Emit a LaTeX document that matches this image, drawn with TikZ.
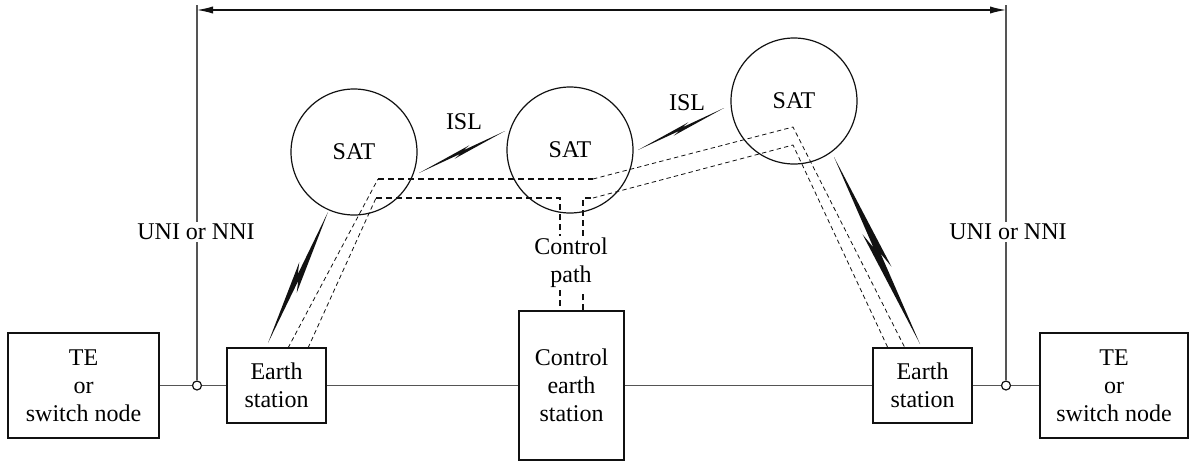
\documentclass[tikz,border=0pt]{standalone}
\usepackage{fontspec}
\setmainfont{Liberation Serif}
\newfontfamily\diagfont{Liberation Serif}
\usetikzlibrary{calc,arrows.meta}
\definecolor{ink}{HTML}{111111}
\definecolor{wire}{HTML}{555555}
\tikzset{
  box/.style={draw=ink, line width=0.75pt, fill=white, align=center, inner sep=0pt},
  sat/.style={circle, draw=ink, line width=0.6pt, minimum size=63pt, inner sep=0pt},
  lab/.style={align=center, inner sep=1pt},
  wireline/.style={draw=wire, line width=0.55pt},
  tap/.style={circle, draw=ink, fill=white, line width=0.6pt, inner sep=0pt, minimum size=4.5pt},
  dashthick/.style={draw=ink, line width=0.8pt, dash pattern=on 3pt off 2pt},
  dashthin/.style={draw=ink, line width=0.4pt, dash pattern=on 2.2pt off 1.6pt},
  span/.style={draw=ink, line width=0.6pt, {Latex[length=8pt,width=3.6pt]}-{Latex[length=8pt,width=3.6pt]}},
}
\newcommand{\litebolt}[4]{%
  \fill[ink] (#1) -- ($(#1)!.6!(#2)!#3!90:(#2)$) -- ($(#1)!.52!(#2)!#4!90:(#2)$) -- (#2)
    -- ($(#1)!.4!(#2)!#3!-90:(#2)$) -- ($(#1)!.48!(#2)!#4!-90:(#2)$) -- cycle;}

\begin{document}
\begin{tikzpicture}[x=0.5pt, y=-0.5pt, font=\diagfont\fontsize{12}{14}\selectfont]
  \useasboundingbox (0,0) rectangle (1189,461);

  \node[box, minimum width=75.5pt, minimum height=52.5pt] (teL) at (83.5,385.5) {TE\\or\\switch node};
  \node[box, minimum width=49.5pt, minimum height=37.5pt] (esL) at (276.5,385.5) {Earth\\station};
  \node[box, minimum width=52.5pt, minimum height=74.5pt] (ctl) at (571.5,385.5) {Control\\earth\\station};
  \node[box, minimum width=49.5pt, minimum height=37.5pt] (esR) at (922.5,385.5) {Earth\\station};
  \node[box, minimum width=74pt, minimum height=52.5pt] (teR) at (1114,385.5) {TE\\or\\switch node};
  \node[tap] (tapL) at (197,385.5) {};
  \node[tap] (tapR) at (1006,385.5) {};
  \draw[wireline] (teL) -- (tapL) -- (esL) -- (ctl) -- (esR) -- (tapR) -- (teR);

  \node[lab] (uniL) at (196,232) {UNI or NNI};
  \node[lab] (uniR) at (1008,232) {UNI or NNI};
  \coordinate (topL) at (197,5);
  \coordinate (topR) at (1006,5);
  \draw[wireline] (tapL) -- (uniL.south -| tapL) (uniL.north -| tapL) -- (topL);
  \draw[wireline] (tapR) -- (uniR.south -| tapR) (uniR.north -| tapR) -- (topR);
  \draw[span] (197,10) coordinate (arrL) -- (1006,10) coordinate (arrR);

  \node[sat] (sat1) at (354,152) {SAT};
  \node[sat] (sat2) at (570,150) {SAT};
  \node[sat] (sat3) at (794,101) {SAT};
  \node[lab] (isl1) at (464,122) {ISL};
  \node[lab] (isl2) at (687,103) {ISL};
  \node[lab] (cpath) at (571,263) {Control\\path};

  \coordinate (b1) at (268,343);
  \coordinate (b2) at (328,212);
  \coordinate (b3) at (834,157);
  \coordinate (b4) at (920,344);
  \coordinate (i1) at (419,173);
  \coordinate (i2) at (505,131);
  \coordinate (i3) at (638,150);
  \coordinate (i4) at (724,108);
  \litebolt{b1}{b2}{2.6pt}{0.8pt}
  \litebolt{b3}{b4}{3.2pt}{1pt}
  \litebolt{i1}{i2}{1.4pt}{0.45pt}
  \litebolt{i3}{i4}{1.4pt}{0.45pt}

  \coordinate (oL) at (288,348);
  \coordinate (k1) at (378,179);
  \coordinate (k2) at (593,179);
  \coordinate (k3) at (793,127);
  \coordinate (oR) at (905,348);
  \draw[dashthin] (oL) -- (k1);
  \draw[dashthick] (k1) -- (k2);
  \draw[dashthin] (k2) -- (k3) -- (oR);

  \coordinate (iL) at (308,348);
  \coordinate (j1) at (376,198);
  \coordinate (c1) at (560,198);
  \coordinate (c2) at (583,198);
  \coordinate (j2) at (593,198);
  \coordinate (j3) at (793,145);
  \coordinate (iR) at (888,348);
  \draw[dashthin] (iL) -- (j1);
  \draw[dashthick] (j1) -- (c1) -- (c1 |- cpath.north);
  \draw[dashthick] (cpath.south -| c1) -- (c1 |- ctl.north);
  \draw[dashthick] (c2 |- ctl.north) -- (cpath.south -| c2);
  \draw[dashthick] (c2 |- cpath.north) -- (c2) -- (j2);
  \draw[dashthin] (j2) -- (j3) -- (iR);
\end{tikzpicture}
\end{document}
